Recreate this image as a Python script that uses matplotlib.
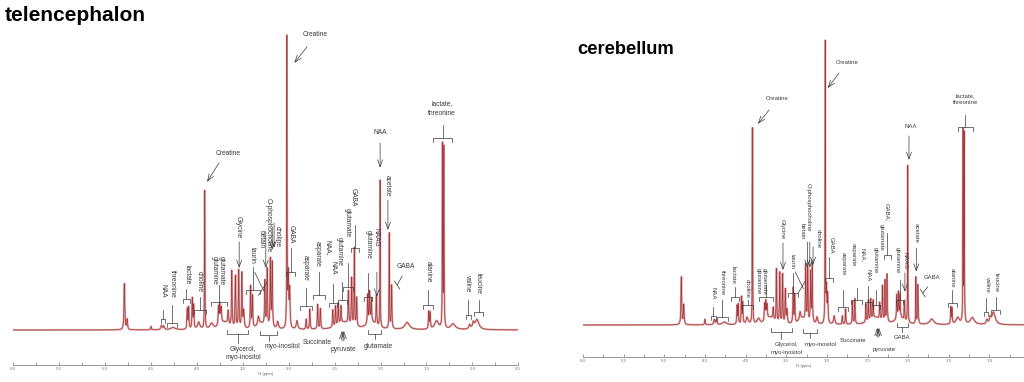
import numpy as np
import matplotlib.pyplot as plt
from matplotlib.ticker import MultipleLocator, FormatStrFormatter

plt.rcParams['font.family'] = ['Liberation Sans', 'DejaVu Sans']

# peak list: chemical shift (ppm), half width (ppm), height (% of creatine 3.02)
shift = np.array([4.790, 4.760, 4.500, 4.385, 4.360, 4.260, 4.105, 4.090, 4.050, 4.035,
                  3.980, 3.915, 3.840, 3.765, 3.750, 3.735, 3.700, 3.660, 3.620, 3.580,
                  3.545, 3.510, 3.490, 3.415, 3.395, 3.330, 3.300, 3.260, 3.235, 3.200,
                  3.180, 3.120, 3.020, 3.005, 2.990, 2.910, 2.810, 2.770, 2.685, 2.655,
                  2.520, 2.490, 2.460, 2.430, 2.400, 2.350, 2.315, 2.285, 2.260, 2.140,
                  2.120, 2.100, 2.100, 2.045, 2.005, 1.905, 1.880, 1.710, 1.475, 1.460,
                  1.390, 1.325, 1.310, 1.210, 1.030, 0.990, 0.950])
width = np.array([0.005, 0.005, 0.005, 0.008, 0.008, 0.030, 0.004, 0.004, 0.004, 0.004,
                  0.015, 0.0025, 0.020, 0.005, 0.005, 0.005, 0.050, 0.006, 0.004, 0.004,
                  0.004, 0.004, 0.006, 0.004, 0.004, 0.010, 0.050, 0.004, 0.004, 0.004,
                  0.004, 0.010, 0.0022, 0.005, 0.005, 0.010, 0.004, 0.004, 0.004, 0.004,
                  0.004, 0.004, 0.004, 0.004, 0.080, 0.004, 0.004, 0.003, 0.004, 0.004,
                  0.004, 0.004, 0.060, 0.004, 0.0022, 0.0025, 0.004, 0.030, 0.004, 0.004,
                  0.025, 0.0025, 0.0025, 0.030, 0.010, 0.010, 0.025])
tel_height = np.array([16.0, 3.5, 1.2, 1.5, 1.2, 0.8, 7.0, 7.5, 10.5, 8.0,
                       2.5, 48.0, 2.0, 6.5, 7.0, 5.5, 2.5, 5.0, 19.5, 18.0,
                       20.0, 19.0, 6.0, 14.5, 11.0, 3.0, 2.0, 15.5, 20.0, 23.5,
                       22.5, 2.5, 100.0, 18.0, 13.0, 3.0, 3.5, 7.0, 8.5, 7.0,
                       6.0, 7.0, 7.5, 6.0, 2.5, 11.5, 16.5, 27.0, 10.0, 10.0,
                       10.5, 8.0, 2.5, 10.5, 51.0, 33.0, 15.0, 2.5, 5.9, 5.5,
                       3.0, 63.0, 62.0, 2.0, 1.5, 2.0, 3.5])
cer_height = np.array([17.0, 7.0, 2.0, 1.8, 1.5, 1.0, 6.5, 7.0, 9.5, 7.5,
                       2.5, 70.0, 2.0, 6.0, 6.5, 5.0, 2.5, 4.5, 19.0, 18.0,
                       17.5, 12.0, 5.0, 12.5, 10.0, 3.0, 2.0, 20.0, 19.0, 18.0,
                       21.0, 2.5, 100.0, 12.0, 10.0, 3.0, 3.0, 5.5, 8.0, 9.0,
                       6.5, 7.5, 7.5, 6.5, 2.5, 6.0, 12.5, 14.5, 17.0, 8.5,
                       9.0, 8.0, 2.5, 7.0, 56.0, 16.5, 14.0, 2.0, 6.0, 5.5,
                       2.5, 68.0, 67.0, 2.5, 1.5, 2.0, 4.5])

# annotations: (text, ppm, height, rotation)
tel_labels = [
    ('Creatine', 2.71, 102.4, 0), ('Creatine', 3.66, 61.1, 0),
    ('lactate,', 1.33, 78.5, 0), ('threonine', 1.33, 75.3, 0),
    ('NAA', 2.005, 68.7, 0), ('acetate', 1.93, 50.0, 270), ('GABA', 1.73, 21.9, 0),
    ('alanine', 1.48, 20.1, 270), ('valine', 1.05, 16.0, 270), ('leucine', 0.94, 16.0, 270),
    ('NAAG', 2.055, 32.3, 270), ('glutamine', 2.13, 29.7, 270),
    ('GABA', 2.295, 46.2, 270), ('glutamate', 2.36, 37.2, 270),
    ('glutamine', 2.45, 27.1, 270), ('NAA', 2.515, 21.5, 270),
    ('NAA,', 2.57, 28.5, 270), ('asparate', 2.69, 26.4, 270),
    ('asparate', 2.82, 21.5, 270), ('GABA', 2.97, 33.3, 270),
    ('choline', 3.12, 32.6, 270), ('O-phosphocholine', 3.23, 36.5, 270),
    ('betain', 3.30, 31.6, 270), ('taurin', 3.40, 26.0, 270),
    ('Glycine', 3.55, 35.8, 270), ('glutamate', 3.74, 20.8, 270),
    ('glutamine', 3.81, 20.8, 270), ('choline', 3.98, 17.0, 270),
    ('lactate', 4.11, 19.1, 270), ('threonine', 4.27, 16.0, 270), ('NAA', 4.37, 13.5, 270),
    ('Glycerol,', 3.50, -6.6, 0), ('myo-inositol', 3.50, -9.7, 0),
    ('myo-inositol', 3.07, -5.9, 0), ('Succinate', 2.69, -4.2, 0),
    ('pyruvate', 2.41, -6.9, 0), ('glutamate', 2.03, -5.9, 0),
]
# brackets: (ppm from, ppm to, height, stem end)
tel_brackets = [
    (1.43, 1.22, 66.7, 71.2), (1.54, 1.43, 8.7, 13.9), (1.07, 1.02, 5.2, 10.4),
    (0.98, 0.88, 6.2, 10.4), (2.18, 2.09, 11.5, 19.8), (2.32, 2.24, 28.5, 36.5),
    (2.41, 2.30, 14.9, 23.3), (2.46, 2.37, 10.4, 16.7), (2.56, 2.47, 9.4, 16.0),
    (2.74, 2.60, 12.2, 20.1), (2.88, 2.75, 8.3, 14.6), (3.03, 2.93, 20.1, 28.5),
    (3.47, 3.31, 13.9, 21.9), (3.85, 3.67, 9.7, 15.6), (4.03, 3.90, 6.9, 11.5),
    (4.15, 4.08, 10.8, 14.2), (4.33, 4.22, 2.4, 8.7), (4.39, 4.35, 3.8, 6.9),
    (3.67, 3.44, -1.4, -4.5), (3.31, 3.13, -1.7, -3.8), (2.14, 1.99, -1.4, -3.1),
]
# arrows: (ppm, height) -> (ppm, height)
tel_arrows = [
    (2.80, 98.3, 2.94, 92.7), (3.76, 58.0, 3.89, 51.4), (2.005, 64.9, 2.005, 56.3),
    (1.92, 45.1, 1.92, 34.7), (2.04, 20.1, 2.04, 11.5), (3.18, 35.8, 3.18, 27.8),
    (3.16, 37.2, 3.16, 28.5), (3.25, 34.0, 3.25, 21.5), (3.54, 30.6, 3.54, 21.5),
    (2.42, -3.8, 2.42, -0.3), (2.40, -3.8, 2.40, -0.3),
]
tel_lines = [
    (1.765, 18.7, 1.82, 15.6), (1.85, 17.0, 1.79, 14.2),
    (3.37, 20.0, 3.27, 13.5), (3.33, 12.0, 3.24, 16.5),
]

cer_labels = [
    ('Creatine', 2.75, 93.6, 0), ('Creatine', 3.61, 80.7, 0),
    ('lactate,', 1.30, 81.8, 0), ('threonine', 1.30, 79.3, 0),
    ('NAA', 1.97, 70.7, 0), ('acetate', 1.90, 33.0, 270), ('GABA', 1.71, 16.8, 0),
    ('alanine', 1.46, 17.0, 270), ('valine', 1.03, 14.3, 270), ('leucine', 0.92, 15.0, 270),
    ('NAA', 4.40, 11.4, 270), ('threonine', 4.29, 15.0, 270), ('lactate', 4.15, 17.9, 270),
    ('choline', 3.98, 12.9, 270), ('glutamate', 3.77, 15.7, 270), ('glutamine', 3.845, 15.7, 270),
    ('Glycine', 3.55, 34.3, 270), ('taurin', 3.42, 22.5, 270),
    ('O-phosphocholine', 3.225, 42.1, 270), ('betain', 3.30, 33.6, 270),
    ('choline', 3.11, 30.7, 270), ('GABA', 2.94, 28.6, 270), ('asparate', 2.80, 22.0, 270),
    ('NAA,', 2.555, 25.0, 270), ('asparate', 2.675, 25.0, 270), ('NAA', 2.49, 17.9, 270),
    ('glutamine', 2.41, 23.0, 270), ('GABA,', 2.255, 40.4, 270), ('glutamate', 2.325, 31.4, 270),
    ('NAAG', 2.035, 23.0, 270), ('glutamine', 2.135, 23.0, 270),
    ('GABA', 2.08, -4.3, 0), ('Glycerol,', 3.49, -7.1, 0), ('myo-inositol', 3.49, -10.0, 0),
    ('myo-inositol', 3.08, -6.8, 0), ('Succinate', 2.68, -5.7, 0), ('pyruvate', 2.29, -8.6, 0),
]
cer_brackets = [
    (1.39, 1.20, 70.7, 75.0), (1.51, 1.40, 7.9, 12.5), (1.07, 1.02, 4.6, 9.6),
    (0.98, 0.87, 5.4, 10.0), (4.43, 4.37, 3.2, 6.4), (4.35, 4.22, 2.9, 8.9),
    (4.18, 4.08, 10.0, 13.6), (4.04, 3.91, 7.1, 8.9), (3.84, 3.66, 10.0, 14.3),
    (3.48, 3.36, 11.4, 18.6), (3.02, 2.93, 16.8, 24.3), (2.86, 2.74, 6.4, 12.5),
    (2.70, 2.57, 8.9, 13.2), (2.53, 2.45, 8.2, 13.9), (2.43, 2.35, 7.1, 12.5),
    (2.30, 2.21, 25.0, 32.9), (2.15, 2.06, 8.9, 16.0),
    (2.14, 2.00, -0.7, -2.5), (3.69, 3.43, -2.5, -5.0), (3.29, 3.12, -2.9, -4.6),
]
cer_arrows = [
    (2.85, 90.0, 2.99, 84.6), (3.71, 76.8, 3.85, 71.8), (1.99, 67.5, 1.99, 58.9),
    (1.90, 27.5, 1.90, 19.0), (3.54, 29.3, 3.54, 19.6), (3.24, 29.6, 3.24, 20.4),
    (3.21, 29.6, 3.21, 20.4), (3.17, 27.9, 3.17, 21.4), (2.04, 18.6, 2.04, 11.8),
    (2.38, -4.3, 2.38, -1.0), (2.36, -4.3, 2.36, -1.0),
]
cer_lines = [
    (1.76, 13.6, 1.82, 11.4), (1.85, 12.8, 1.79, 10.0),
    (3.39, 19.0, 3.29, 13.0), (3.35, 11.5, 3.27, 15.5),
]

ppm = np.linspace(0.5, 6.0, 40000)


def spectrum(heights):
    d = (ppm[:, None] - shift[None, :]) / width[None, :]
    return (heights / (1.0 + d ** 2)).sum(axis=1)


def draw_panel(ax, heights, labels, brackets, arrows, lines, right, ylim, fs):
    y = spectrum(heights)
    ax.plot(ppm, y, color='#dfa5a5', lw=1.4, solid_joinstyle='round')
    ax.plot(ppm, y, color='#a53a3e', lw=0.5)
    ax.set_xlim(6.0, right)
    ax.set_ylim(*ylim)
    for s in ('top', 'right', 'left'):
        ax.spines[s].set_visible(False)
    ax.spines['bottom'].set_color('#888888')
    ax.spines['bottom'].set_linewidth(0.6)
    ax.set_yticks([])
    ax.xaxis.set_major_locator(MultipleLocator(0.5))
    ax.xaxis.set_minor_locator(MultipleLocator(0.25))
    ax.xaxis.set_major_formatter(FormatStrFormatter('%.1f'))
    ax.tick_params(axis='x', which='both', direction='in', length=2.5, width=0.5,
                   colors='#777777', labelsize=3.2, pad=1.5)
    ax.set_xlabel('f1 (ppm)', fontsize=3, color='#666666', labelpad=0.5)
    ax.patch.set_alpha(0)

    ink = '#3a3a3a'
    tick = 1.3
    for text, x, yy, rot in labels:
        ax.text(x, yy, text, rotation=rot, ha='center', va='center', fontsize=fs,
                color=ink, clip_on=False)
    for x0, x1, yy, stem in brackets:
        d = -tick if stem > yy else tick
        ax.plot([x0, x0, x1, x1], [yy + d, yy, yy, yy + d], color=ink, lw=0.5)
        xm = (x0 + x1) / 2
        ax.plot([xm, xm], [yy, stem], color=ink, lw=0.5)
    for x0, y0, x1, y1 in arrows:
        ax.annotate('', xy=(x1, y1), xytext=(x0, y0),
                    arrowprops=dict(arrowstyle='->,head_length=0.5,head_width=0.18',
                                    lw=0.5, color=ink, shrinkA=0, shrinkB=0))
    for x0, y0, x1, y1 in lines:
        ax.plot([x0, x1], [y0, y1], color=ink, lw=0.5)


fig = plt.figure(figsize=(10.24, 3.82), dpi=100)

ax1 = fig.add_axes([13.3 / 1024, 1 - 365 / 382, 505 / 1024, 345 / 382])
draw_panel(ax1, tel_height, tel_labels, tel_brackets, tel_arrows, tel_lines,
           0.5, (-12.15, 107.6), 4.8)

ax2 = fig.add_axes([583 / 1024, 1 - 357 / 382, 441 / 1024, 337 / 382])
draw_panel(ax2, cer_height, cer_labels, cer_brackets, cer_arrows, cer_lines,
           0.575, (-11.43, 108.9), 4.3)

fig.text(5 / 1024, 1 - 21 / 382, 'telencephalon', fontsize=15, fontweight='bold',
         va='baseline', ha='left')
fig.text(577 / 1024, 1 - 54 / 382, 'cerebellum', fontsize=13.2, fontweight='bold',
         va='baseline', ha='left')

fig.savefig('out.png', dpi=100)
